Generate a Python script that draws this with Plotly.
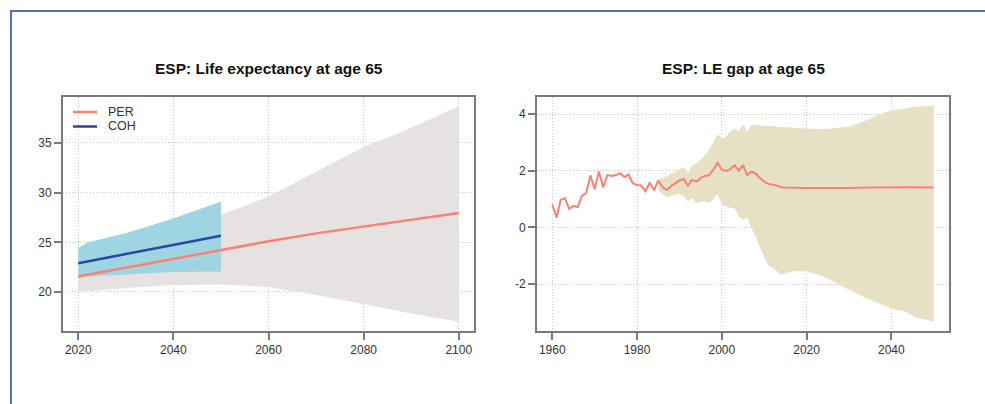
import plotly.graph_objects as go

W, H = 985, 404

# ---------------- Left panel data: life expectancy at 65 ----------------
per_years = [2020, 2030, 2040, 2050, 2060, 2070, 2080, 2090, 2100]
per_values = [21.55, 22.45, 23.35, 24.25, 25.1, 25.9, 26.6, 27.3, 27.95]
per_band_years = [2020, 2030, 2040, 2050, 2060, 2070, 2080, 2088, 2100]
per_band_upper = [23.2, 24.6, 26.1, 27.75, 29.6, 32.1, 34.6, 36.1, 38.7]
per_band_lower = [20.0, 20.4, 20.7, 20.75, 20.5, 19.7, 18.8, 18.0, 17.0]

coh_years = [2020, 2030, 2040, 2050]
coh_values = [22.9, 23.8, 24.75, 25.65]
coh_band_years = [2020, 2022, 2030, 2040, 2050]
coh_band_upper = [24.4, 25.0, 25.9, 27.4, 29.1]
coh_band_lower = [21.4, 21.55, 21.75, 22.0, 22.05]

left_xticks = [2020, 2040, 2060, 2080, 2100]
left_yticks = [20, 25, 30, 35]
legend_labels = ["PER", "COH"]

# ---------------- Right panel data: LE gap at 65 ----------------
gap_years = list(range(1960, 2016)) + [2020, 2025, 2030, 2035, 2040, 2045, 2050]
gap_values = [0.82, 0.35, 0.98, 1.03, 0.66, 0.76, 0.72, 1.12, 1.21, 1.84,
              1.35, 1.98, 1.42, 1.85, 1.82, 1.85, 1.92, 1.78, 1.87, 1.56,
              1.50, 1.48, 1.28, 1.59, 1.31, 1.66, 1.42, 1.33, 1.45, 1.55,
              1.66, 1.71, 1.48, 1.68, 1.62, 1.74, 1.82, 1.85, 2.04, 2.29,
              2.04, 2.00, 2.06, 2.20, 2.00, 2.20, 1.84, 1.98, 1.90, 1.75,
              1.62, 1.54, 1.52, 1.48, 1.42, 1.41,
              1.39, 1.38, 1.39, 1.41, 1.42, 1.42, 1.41]
gap_band_years = [1985, 1987, 1990, 1991, 1992, 1993, 1994, 1995, 1996, 1997,
                  1998, 1999, 2000, 2001, 2002, 2003, 2004, 2005, 2006, 2007,
                  2008, 2009, 2010, 2011, 2012, 2014, 2017, 2020, 2024, 2030,
                  2034, 2038, 2040, 2043, 2046, 2050]
gap_band_upper = [1.70, 1.80, 2.06, 2.13, 1.92, 2.20, 2.25, 2.39, 2.55, 2.74,
                  3.00, 3.29, 3.15, 3.20, 3.39, 3.50, 3.39, 3.65, 3.39, 3.62,
                  3.62, 3.60, 3.60, 3.58, 3.58, 3.55, 3.52, 3.50, 3.47, 3.56,
                  3.78, 4.04, 4.13, 4.20, 4.27, 4.30]
gap_band_lower = [1.30, 1.07, 1.19, 1.10, 0.92, 1.04, 0.86, 0.90, 0.92, 0.86,
                  1.00, 1.19, 0.80, 0.74, 0.70, 0.68, 0.39, 0.27, 0.33, -0.02,
                  -0.35, -0.70, -1.05, -1.35, -1.42, -1.67, -1.55, -1.55, -1.73, -2.20,
                  -2.49, -2.75, -2.87, -2.96, -3.20, -3.32]

right_xticks = [1960, 1980, 2000, 2020, 2040]
right_yticks = [-2, 0, 2, 4]
right_yticklabels = ["-2", "0", "2", "4"]

# ---------------- Styles ----------------
SALMON = "#F98272"
BLUE = "#2B46A8"
CYAN = "#9FD5E2"
GREY = "#E7E2E2"
TAN = "#E6E1C4"
AXIS = "#7a7a7a"
GRID = "#cccccc"
FONT = "Liberation Sans, Arial, sans-serif"


def band(xs, up, lo):
    return list(xs) + list(xs)[::-1], list(up) + list(lo)[::-1]


fig = go.Figure()

bx, by = band(per_band_years, per_band_upper, per_band_lower)
fig.add_trace(go.Scatter(x=bx, y=by, fill="toself", fillcolor=GREY, mode="none",
                         showlegend=False, hoverinfo="skip", xaxis="x", yaxis="y"))
cx, cy = band(coh_band_years, coh_band_upper, coh_band_lower)
fig.add_trace(go.Scatter(x=cx, y=cy, fill="toself", fillcolor=CYAN, mode="none",
                         showlegend=False, hoverinfo="skip", xaxis="x", yaxis="y"))
fig.add_trace(go.Scatter(x=per_years, y=per_values, mode="lines", name=legend_labels[0],
                         showlegend=False, line=dict(color=SALMON, width=2.5), xaxis="x", yaxis="y"))
fig.add_trace(go.Scatter(x=coh_years, y=coh_values, mode="lines", name=legend_labels[1],
                         showlegend=False, line=dict(color=BLUE, width=2.5), xaxis="x", yaxis="y"))

gx, gy = band(gap_band_years, gap_band_upper, gap_band_lower)
fig.add_trace(go.Scatter(x=gx, y=gy, fill="toself", fillcolor=TAN, mode="none",
                         showlegend=False, hoverinfo="skip", xaxis="x2", yaxis="y2"))
fig.add_trace(go.Scatter(x=gap_years, y=gap_values, mode="lines", showlegend=False,
                         line=dict(color=SALMON, width=2), xaxis="x2", yaxis="y2"))


def px_dom(a, b, total):
    return [a / total, b / total]


axis_common = dict(showline=True, linecolor=AXIS, linewidth=2, mirror=True,
                   ticks="outside", ticklen=7, tickwidth=1.5, tickcolor=AXIS,
                   showgrid=True, gridcolor=GRID, griddash="1px,2px", gridwidth=1,
                   zeroline=False, tickfont=dict(family=FONT, size=12, color="#333333"))

# manual legend (tight R-style spacing)
legend_shapes = []
legend_annots = []
for i, (lab, col) in enumerate(zip(legend_labels, [SALMON, BLUE])):
    ypx = 112 + 14.5 * i
    legend_shapes.append(dict(type="line", xref="paper", yref="paper",
                              x0=73 / W, x1=97 / W, y0=1 - ypx / H, y1=1 - ypx / H,
                              line=dict(color=col, width=2.5)))
    legend_annots.append(dict(text=lab, xref="paper", yref="paper", x=106 / W, y=1 - ypx / H,
                              showarrow=False, xanchor="left", yanchor="middle",
                              font=dict(family=FONT, size=12.5, color="#333333")))

fig.update_layout(
    width=W, height=H,
    margin=dict(l=0, r=0, t=0, b=0),
    paper_bgcolor="white", plot_bgcolor="white",
    font=dict(family=FONT),
    showlegend=False,
    xaxis=dict(domain=px_dom(63, 474, W), range=[2016.8, 2103.2],
               tickvals=left_xticks, anchor="y", **axis_common),
    yaxis=dict(domain=[1 - 331 / H, 1 - 97 / H], range=[16.07, 39.63],
               tickvals=left_yticks, anchor="x", **axis_common),
    xaxis2=dict(domain=px_dom(537, 949, W), range=[1956.4, 2053.6],
                tickvals=right_xticks, anchor="y2", **axis_common),
    yaxis2=dict(domain=[1 - 331 / H, 1 - 97 / H], range=[-3.66, 4.61],
                tickvals=right_yticks, ticktext=right_yticklabels, anchor="x2", **axis_common),
    annotations=[
        dict(text="<b>ESP: Life expectancy at age 65</b>", xref="paper", yref="paper",
             x=268.5 / W, y=1 - 68 / H, showarrow=False, xanchor="center", yanchor="middle",
             font=dict(family=FONT, size=15.5, color="#111111")),
        dict(text="<b>ESP: LE gap at age 65</b>", xref="paper", yref="paper",
             x=743 / W, y=1 - 68 / H, showarrow=False, xanchor="center", yanchor="middle",
             font=dict(family=FONT, size=15.5, color="#111111")),
    ] + legend_annots,
    shapes=[
        dict(type="line", xref="paper", yref="paper", x0=10 / W, x1=1, y0=1 - 11 / H, y1=1 - 11 / H,
             line=dict(color="#5470B3", width=2)),
        dict(type="line", xref="paper", yref="paper", x0=11 / W, x1=11 / W, y0=0, y1=1 - 10 / H,
             line=dict(color="#5470B3", width=2)),
    ] + legend_shapes,
)

fig.write_html("out.html", config={"displayModeBar": False},
               post_script="document.body.style.margin='0';document.body.style.overflow='hidden';")
